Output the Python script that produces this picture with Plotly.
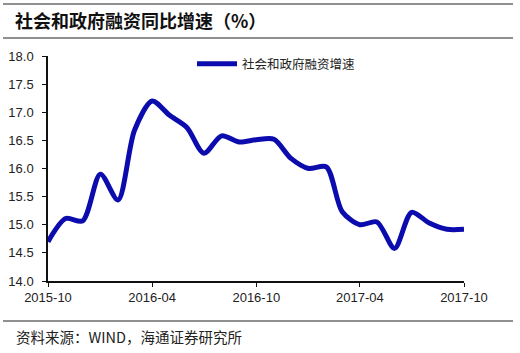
import plotly.graph_objects as go

months = ["2015-10","2015-11","2015-12","2016-01","2016-02","2016-03","2016-04","2016-05",
          "2016-06","2016-07","2016-08","2016-09","2016-10","2016-11","2016-12","2017-01",
          "2017-02","2017-03","2017-04","2017-05","2017-06","2017-07","2017-08","2017-09","2017-10"]
growth = [14.70,15.11,15.07,15.90,15.44,16.68,17.20,16.95,16.73,16.27,16.58,16.47,16.51,
          16.52,16.18,16.00,16.03,15.23,15.00,15.05,14.58,15.22,15.03,14.92,14.92]
tick_vals = ["2015-10-01","2016-04-01","2016-10-01","2017-04-01","2017-10-01"]
tick_text = ["2015-10","2016-04","2016-10","2017-04","2017-10"]
series_name = "社会和政府融资增速"
title_text = "社会和政府融资同比增速（%）"
source_text = "资料来源：WIND，海通证券研究所"

W, H = 520, 353
L, R, T, B = 48, 464, 56, 281
pw, ph = R - L, B - T

def px(x):
    return (x - L) / pw

def py(y):
    return (B - y) / ph

fig = go.Figure()
fig.add_trace(go.Scatter(
    x=[m + "-01" for m in months], y=growth, mode="lines", name=series_name,
    line=dict(color="#0c0cae", width=5, shape="spline", smoothing=0.8),
    showlegend=True,
))

cjk = "Noto Sans CJK SC"
fig.update_layout(
    width=W, height=H,
    margin=dict(l=L, r=W - R, t=T, b=H - B, autoexpand=False),
    paper_bgcolor="white", plot_bgcolor="white",
    font=dict(family="Liberation Sans, Arial", size=13, color="#222"),
    xaxis=dict(type="date", range=["2015-10-01", "2017-10-01"],
               tickvals=tick_vals, ticktext=tick_text, automargin=False,
               showgrid=False, zeroline=False, showline=True, linecolor="#111", linewidth=1.5,
               ticks="outside", ticklen=4, tickcolor="#111",
               tickfont=dict(size=13, color="#222")),
    yaxis=dict(range=[14.0, 18.0], dtick=0.5, tickformat=".1f", automargin=False,
               showgrid=False, zeroline=False, showline=True, linecolor="#111", linewidth=1.5,
               ticks="outside", ticklen=4, tickcolor="#111", ticklabelstandoff=6,
               tickfont=dict(size=13, color="#222")),
    legend=dict(x=px(192), y=py(64), xanchor="left", yanchor="middle",
                bgcolor="rgba(0,0,0,0)", font=dict(family=cjk, size=12.5, color="#222"),
                itemwidth=40),
    showlegend=True,
)

fig.add_annotation(text="<b>" + title_text + "</b>", xref="paper", yref="paper",
                   x=px(13), y=py(20), xanchor="left", yanchor="middle", showarrow=False,
                   font=dict(family=cjk, size=18, color="#111"))
fig.add_annotation(text=source_text, xref="paper", yref="paper",
                   x=px(14), y=py(336), xanchor="left", yanchor="middle", showarrow=False,
                   font=dict(family=cjk, size=14.5, color="#222"))
for yy in (4, 38, 321):
    fig.add_shape(type="line", xref="paper", yref="paper",
                  x0=px(3), x1=px(513), y0=py(yy), y1=py(yy),
                  line=dict(color="#222", width=1.2))

fig.write_html("out.html")
